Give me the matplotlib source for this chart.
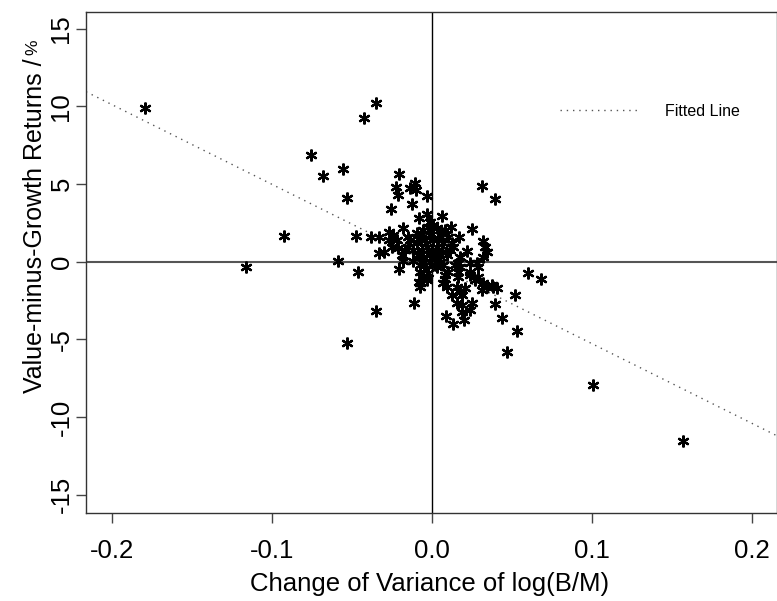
import matplotlib
matplotlib.use("Agg")
import matplotlib.pyplot as plt
from matplotlib.lines import Line2D

plt.rcParams['font.family'] = ['Liberation Sans', 'DejaVu Sans']

# change of variance of log(B/M)
x_vals = [-0.1794, -0.1164, -0.0923, -0.0756, -0.0679, -0.0554, -0.0533, -0.0423, -0.0348, -0.0589,
          -0.0464, -0.0350, -0.0533, -0.0110, -0.0475, -0.0381, -0.0331, -0.0258, -0.0204, -0.0225,
          -0.0210, -0.0138, -0.0106, -0.0100, -0.0127, -0.0033, -0.0179, -0.0329, -0.0298, -0.0204,
          -0.0179, -0.0117, -0.0081, -0.0064, 0.0313, 0.0392, -0.0079, -0.0033, 0.0063, -0.0013,
          -0.0271, -0.0242, -0.0271, -0.0221, -0.0252, -0.0210, -0.0148, -0.0092, -0.0138, -0.0075,
          -0.0169, -0.0189, 0.0117, 0.0167, 0.0250, 0.0321, 0.0331, 0.0346, 0.0321, 0.0217,
          0.0175, 0.0165, 0.0144, 0.0175, 0.0279, 0.0238, 0.0290, 0.0602, 0.0681, 0.0519,
          0.0394, 0.0438, 0.0533, 0.0088, 0.0133, 0.0202, 0.0185, 0.0238, 0.0248, 0.0185,
          0.0206, 0.0175, 0.0123, 0.0154, 0.0071, 0.0092, 0.0081, 0.0165, 0.0165, 0.0238,
          0.0238, 0.0290, 0.0269, 0.0321, 0.0342, 0.0383, 0.0404, 0.0310, 0.0373, -0.0054,
          -0.0023, -0.0033, -0.0075, -0.0075, 0.0029, 0.0050, 0.0029, 0.0071, 0.0102, 0.0081,
          -0.0054, -0.0023, 0.0008, 0.0029, -0.0013, -0.0044, 0.0008, 0.0039, 0.0060, 0.0081,
          0.0102, 0.0123, 0.0133, -0.0033, -0.0002, 0.0029, -0.0064, -0.0013, 0.0019, 0.0060,
          0.0092, 0.0071, -0.0096, -0.0117, -0.0148, -0.0086, -0.0054, 0.0113, -0.0013, -0.0044,
          0.0019, -0.0075, 0.0467, 0.1006, 0.1571, 0.0154, 0.0185, -0.0075, -0.0033]

# value-minus-growth returns (%)
y_vals = [9.92, -0.32, 1.67, 6.89, 5.54, 5.95, 4.08, 9.27, 10.20, 0.05,
          -0.64, -3.15, -5.21, -2.68, 1.65, 1.61, 1.61, 3.37, 5.63, 4.79,
          4.29, 4.73, 5.09, 4.62, 3.72, 4.25, 2.19, 0.54, 0.64, -0.47,
          0.05, 0.05, -1.33, -0.96, 4.89, 4.02, 2.79, 3.07, 2.94, 2.58,
          1.93, 1.72, 1.40, 1.40, 0.97, 0.86, 1.61, 1.87, 1.40, 1.51,
          0.75, 0.43, 2.21, 1.61, 2.09, 1.33, 0.97, 0.64, 0.32, 0.69,
          0.32, -0.10, -0.21, -0.32, -0.10, -0.06, -0.32, -0.75, -1.13, -2.14,
          -2.72, -3.61, -4.44, -3.48, -4.03, -3.75, -3.22, -3.11, -2.64, -2.14,
          -1.71, -1.93, -2.14, -1.61, -1.39, -1.61, -1.13, -0.96, -0.64, -0.86,
          -0.64, -0.96, -1.18, -1.39, -1.61, -1.61, -1.71, -1.82, -1.50, -0.96,
          -0.75, -1.18, -1.39, -1.61, -0.32, 0.00, 0.22, -0.21, -0.64, -0.86,
          2.04, 2.25, 2.36, 2.15, 1.72, 1.40, 1.40, 1.51, 1.83, 2.04,
          1.61, 1.18, 0.97, 0.97, 0.75, 0.97, 0.75, 0.43, 0.43, 0.64,
          0.43, 1.18, 1.18, 0.75, 0.97, 0.43, 0.32, 0.75, 0.00, -0.21,
          -0.21, -0.21, -5.80, -7.94, -11.53, -2.68, -2.79, -0.64, -1.07]

# fitted regression line
fit_slope = -51.3
fit_intercept = -0.15

x_ticks = [-0.2, -0.1, 0.0, 0.1, 0.2]
x_ticklabels = ['-0.2', '-0.1', '0.0', '0.1', '0.2']
y_ticks = [-15, -10, -5, 0, 5, 10, 15]
y_ticklabels = ['-15', '-10', '-5', '0', '5', '10', '15']

W, H = 777, 601
fig = plt.figure(figsize=(W / 100, H / 100), dpi=100)
ax = fig.add_axes([86 / W, (H - 513) / H, (W - 86) / W, (513 - 12.3) / H])

ax.set_xlim(-0.2163, 0.2156)
ax.set_ylim(-16.18, 16.06)

ax.axhline(0, color='#555555', lw=1.5, zorder=1)
ax.axvline(0, color='black', lw=1.0, zorder=1)

ax.axline((0, fit_intercept), slope=fit_slope, color='#555555', lw=1.0,
          linestyle=(0, (1, 3.5)), zorder=2)

ax.plot(x_vals, y_vals, linestyle='none', marker=(6, 2, 0), markersize=8.5,
        markeredgewidth=1.6, color='black', zorder=3)

for s in ax.spines.values():
    s.set_color('#333333')
    s.set_linewidth(1.0)

ax.set_xticks(x_ticks)
ax.set_xticklabels(x_ticklabels)
ax.set_yticks(y_ticks)
ax.set_yticklabels(y_ticklabels, rotation=90, va='center')
ax.tick_params(axis='both', direction='out', length=7.5, width=1.0, color='#444444',
               labelsize=18.5, labelcolor='black')
ax.tick_params(axis='x', pad=11)
ax.tick_params(axis='y', pad=1.5)

fig.text(430 / W, 1 - 584 / H, 'Change of Variance of log(B/M)', ha='center', va='center',
         fontsize=18.5)
fig.text(35 / W, 1 - 226 / H, 'Value-minus-Growth Returns /', ha='center', va='center',
         rotation=90, fontsize=18)
fig.text(33 / W, 1 - 47 / H, '%', ha='center', va='center', rotation=90, fontsize=12.5)

handle = Line2D([], [], color='#555555', lw=1.0, linestyle=(0, (1, 3.5)))
leg = ax.legend([handle], ['Fitted Line'], loc='upper left',
                bbox_to_anchor=((560 - 86) / (W - 86), 1 - (104 - 12.3) / (513 - 12.3)),
                frameon=False, fontsize=11.5, handlelength=5.0, handletextpad=1.6,
                borderpad=0, borderaxespad=0)

fig.savefig('out.png', dpi=100)
